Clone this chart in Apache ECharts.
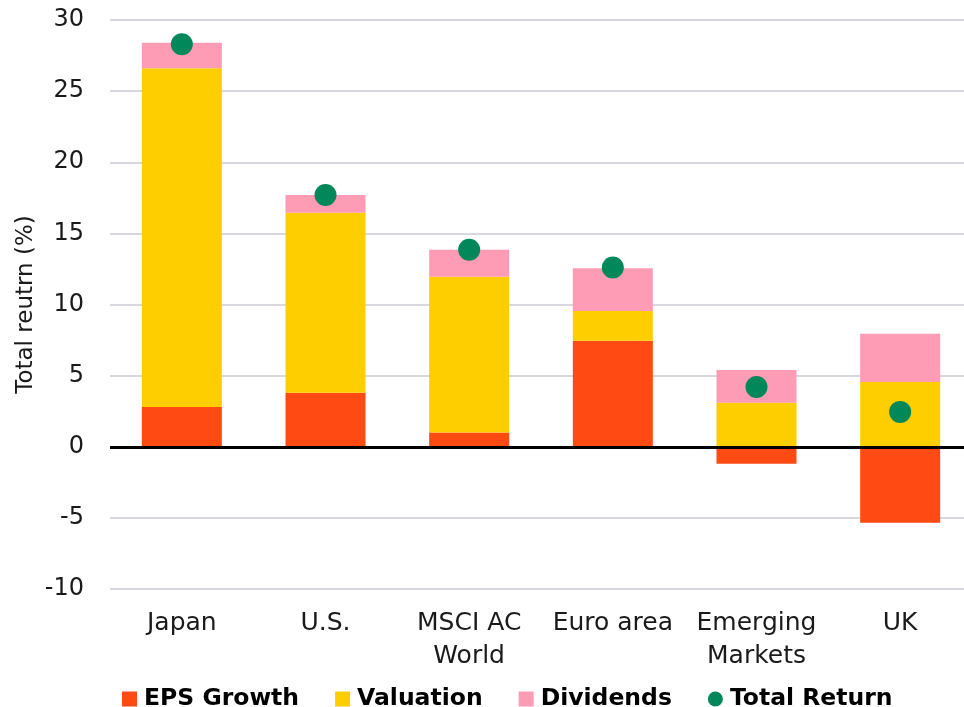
<!DOCTYPE html>
<html><head><meta charset="utf-8">
<script src="https://cdn.jsdelivr.net/npm/echarts@6/dist/echarts.min.js"></script>
<style>html,body{margin:0;padding:0;background:#fff;overflow:hidden}#c{width:972px;height:707px}</style>
</head><body><div id="c"></div>
<script>
const categories = ['Japan', 'U.S.', 'MSCI AC\nWorld', 'Euro area', 'Emerging\nMarkets', 'UK'];
const epsGrowth = [2.8, 3.8, 1.0, 7.45, -1.2, -5.35];
const valuation = [23.8, 12.65, 10.95, 2.1, 3.1, 4.55];
const dividends = [1.8, 1.25, 1.9, 3.0, 2.3, 3.4];
const totalReturn = [28.3, 17.7, 13.85, 12.6, 4.2, 2.45];
const yTicks = { min: -10, max: 30, interval: 5 };

const FONT = 'DejaVu Sans';
const chart = echarts.init(document.getElementById('c'), null, { renderer: 'canvas' });
chart.setOption({
  animation: false,
  textStyle: { fontFamily: FONT },
  grid: { left: 110, right: 0, top: 20, bottom: 118, containLabel: false },
  legend: {
    top: 682, left: 117,
    itemGap: 36, itemWidth: 15, itemHeight: 15,
    textStyle: { fontFamily: FONT, fontSize: 23.5, fontWeight: 'bold', color: '#000', padding: [0, 0, 0, 2] },
    data: [
      { name: 'EPS Growth', icon: 'rect' },
      { name: 'Valuation', icon: 'rect' },
      { name: 'Dividends', icon: 'rect' },
      { name: 'Total Return', icon: 'circle' }
    ]
  },
  xAxis: {
    type: 'category', data: categories,
    axisLine: { show: false, onZero: false },
    axisTick: { show: false },
    axisLabel: { interval: 0, color: '#1a1a1a', fontSize: 25, fontFamily: FONT, margin: 18, lineHeight: 33 }
  },
  yAxis: {
    type: 'value', min: yTicks.min, max: yTicks.max, interval: yTicks.interval,
    name: 'Total reutrn (%)', nameLocation: 'middle', nameGap: 72, nameMoveOverlap: false,
    nameTextStyle: { fontSize: 23, color: '#1a1a1a', fontFamily: FONT },
    axisLabel: { color: '#1a1a1a', fontSize: 24, fontFamily: FONT, margin: 26 },
    axisLine: { show: false }, axisTick: { show: false },
    splitLine: { lineStyle: { color: '#d8d8e0', width: 2 } }
  },
  series: [
    { name: 'EPS Growth', type: 'bar', stack: 't', barWidth: 80, data: epsGrowth,
      itemStyle: { color: '#ff4a14' },
      markLine: { silent: true, symbol: 'none', label: { show: false },
        lineStyle: { color: '#000', width: 3, type: 'solid' }, data: [{ yAxis: 0 }] } },
    { name: 'Valuation', type: 'bar', stack: 't', barWidth: 80, data: valuation,
      itemStyle: { color: '#ffce00' } },
    { name: 'Dividends', type: 'bar', stack: 't', barWidth: 80, data: dividends,
      itemStyle: { color: '#ff9cb5' } },
    { name: 'Total Return', type: 'scatter', symbolSize: 22, data: totalReturn, z: 5,
      itemStyle: { color: '#00875a', opacity: 1 } }
  ]
});
</script></body></html>
